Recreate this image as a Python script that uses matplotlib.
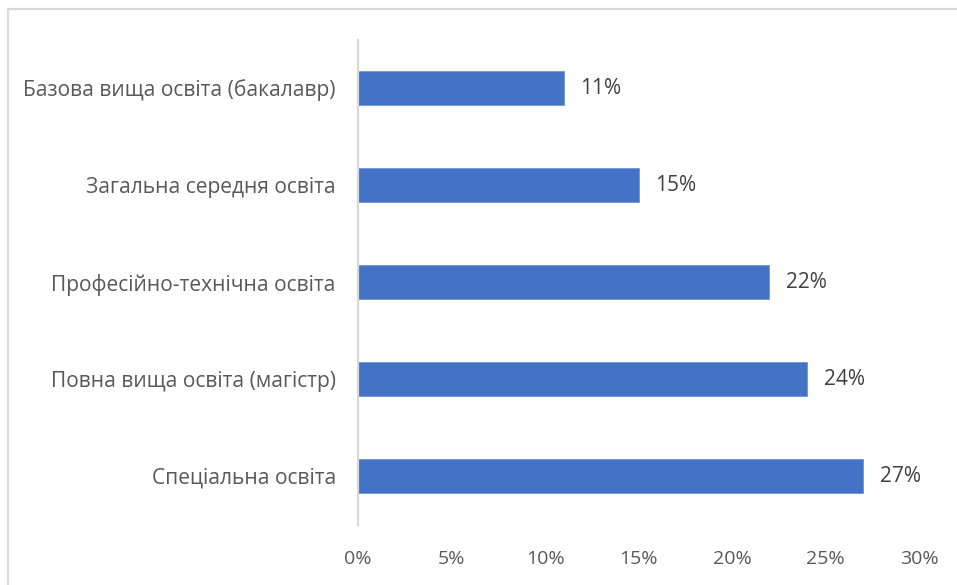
import matplotlib
matplotlib.use("Agg")
import matplotlib.pyplot as plt
from matplotlib.patches import Rectangle

categories = ["Базова вища освіта (бакалавр)", "Загальна середня освіта",
              "Професійно-технічна освіта", "Повна вища освіта (магістр)",
              "Спеціальна освіта"]
values = [11, 15, 22, 24, 27]
xticks = [0, 5, 10, 15, 20, 25, 30]
xticklabels = ["0%", "5%", "10%", "15%", "20%", "25%", "30%"]

plt.rcParams['font.family'] = ['Open Sans', 'DejaVu Sans']
W, H = 957, 585
fig = plt.figure(figsize=(W / 100, H / 100), dpi=100)
fig.patch.set_facecolor("white")

# chart frame
fig.patches.append(Rectangle((8 / W, -0.1), 1.2, (H - 9) / H + 0.1,
                             transform=fig.transFigure, fill=False,
                             edgecolor="#d9d9d9", linewidth=1.6))

ax = fig.add_axes([358 / W, 60.5 / H, (919 - 358) / W, (545.5 - 60.5) / H])
y = list(range(len(categories)))
ax.barh(y, values, height=0.36, color="#4472c4", edgecolor="#6f95d8", linewidth=0.6)
ax.set_ylim(len(categories) - 0.5, -0.5)
ax.set_xlim(0, 30)
ax.set_yticks(y)
ax.set_yticklabels(categories, fontsize=15.1, color="#595959")
ax.set_xticks(xticks)
ax.set_xticklabels(xticklabels, fontsize=14, color="#595959")
ax.tick_params(axis="both", length=0)
ax.tick_params(axis="y", pad=16)
ax.tick_params(axis="x", pad=18)
for s in ["top", "right", "bottom"]:
    ax.spines[s].set_visible(False)
ax.spines["left"].set_color("#d9d9d9")
ax.spines["left"].set_linewidth(1.6)

for yi, v in zip(y, values):
    ax.text(v + 0.9, yi + 0.01, f"{v}%", va="center", ha="left", fontsize=15, color="#404040")

fig.savefig("out.png", dpi=100, facecolor="white")
